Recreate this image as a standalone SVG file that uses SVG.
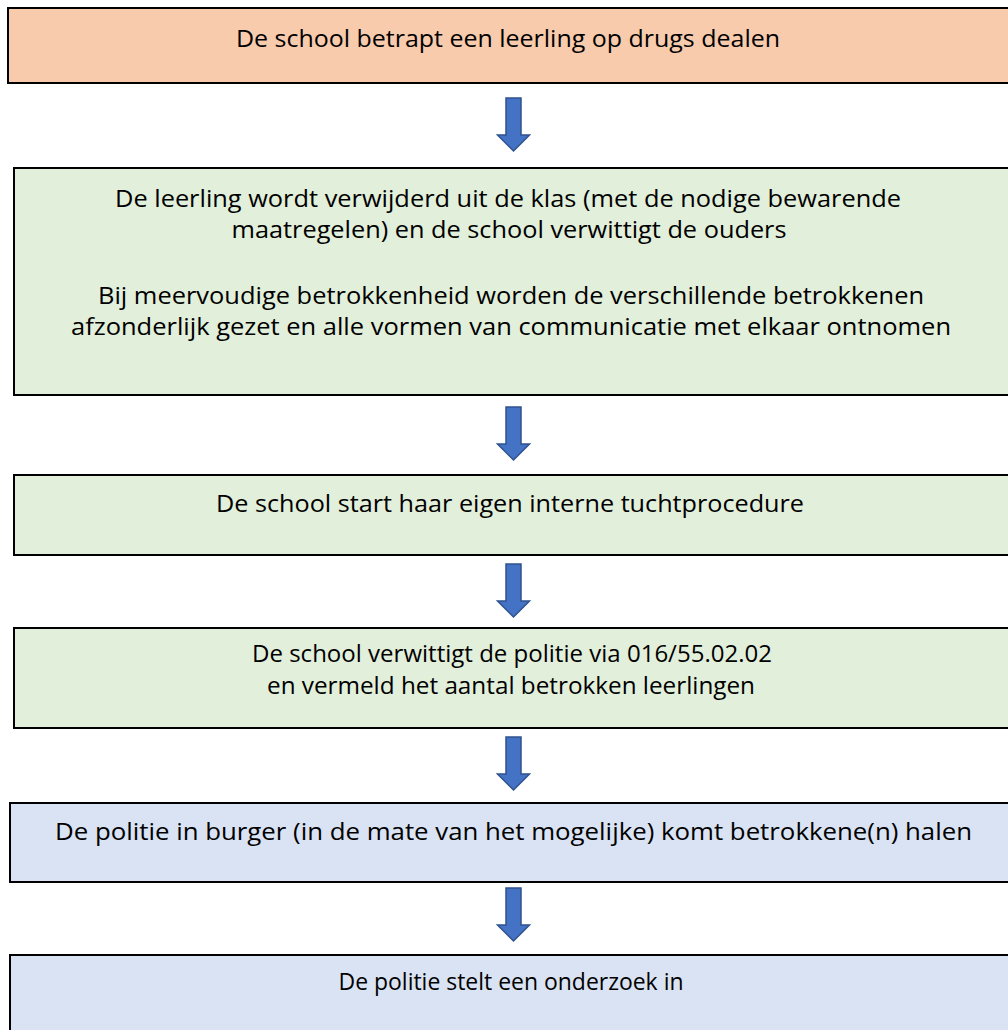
<svg xmlns="http://www.w3.org/2000/svg" width="1008" height="1030" viewBox="0 0 1008 1030">
<defs>
<style>
.box{stroke:#000;stroke-width:2}
.peach{fill:#F8CBAD}
.green{fill:#E2EFDA}
.blue{fill:#DAE3F3}
.t{font-family:"Open Sans","Liberation Sans",sans-serif;font-size:24px;fill:#000;text-anchor:middle}
.arrow{fill:#4472C4;stroke:#2F528F;stroke-width:1.5}
</style>
<path id="arr" d="M-7.5,0 H7.5 V37 H16 L0,53 L-16,37 H-7.5 Z"/>
</defs>
<rect width="1008" height="1030" fill="#fff"/>
<g id="connectors">
<use href="#arr" class="arrow" x="513.5" y="98"/>
<use href="#arr" class="arrow" x="513.5" y="407"/>
<use href="#arr" class="arrow" x="513.5" y="564"/>
<use href="#arr" class="arrow" x="513.5" y="737"/>
<use href="#arr" class="arrow" x="513.5" y="888"/>
</g>
<g id="node1">
<rect class="box peach" x="8" y="8" width="1010" height="75"/>
<text class="t" x="508" y="47" textLength="544" lengthAdjust="spacingAndGlyphs">De school betrapt een leerling op drugs dealen</text>
</g>
<g id="node2">
<rect class="box green" x="14" y="168" width="1010" height="227"/>
<text class="t" x="508" y="207" textLength="786" lengthAdjust="spacingAndGlyphs">De leerling wordt verwijderd uit de klas (met de nodige bewarende</text>
<text class="t" x="509" y="238" textLength="555" lengthAdjust="spacingAndGlyphs">maatregelen) en de school verwittigt de ouders</text>
<text class="t" x="511" y="304" textLength="826" lengthAdjust="spacingAndGlyphs">Bij meervoudige betrokkenheid worden de verschillende betrokkenen</text>
<text class="t" x="511" y="335" textLength="880" lengthAdjust="spacingAndGlyphs">afzonderlijk gezet en alle vormen van communicatie met elkaar ontnomen</text>
</g>
<g id="node3">
<rect class="box green" x="14" y="475" width="1010" height="80"/>
<text class="t" x="510" y="512" textLength="588" lengthAdjust="spacingAndGlyphs">De school start haar eigen interne tuchtprocedure</text>
</g>
<g id="node4">
<rect class="box green" x="14" y="628" width="1010" height="100"/>
<text class="t" x="512" y="662" textLength="520" lengthAdjust="spacingAndGlyphs">De school verwittigt de politie via 016/55.02.02</text>
<text class="t" x="511" y="694" textLength="488" lengthAdjust="spacingAndGlyphs">en vermeld het aantal betrokken leerlingen</text>
</g>
<g id="node5">
<rect class="box blue" x="10" y="803" width="1010" height="79"/>
<text class="t" x="513.5" y="840" textLength="917" lengthAdjust="spacingAndGlyphs">De politie in burger (in de mate van het mogelijke) komt betrokkene(n) halen</text>
</g>
<g id="node6">
<rect class="box blue" x="10" y="955" width="1010" height="90"/>
<text class="t" x="511" y="990" textLength="345" lengthAdjust="spacingAndGlyphs">De politie stelt een onderzoek in</text>
</g>
</svg>
